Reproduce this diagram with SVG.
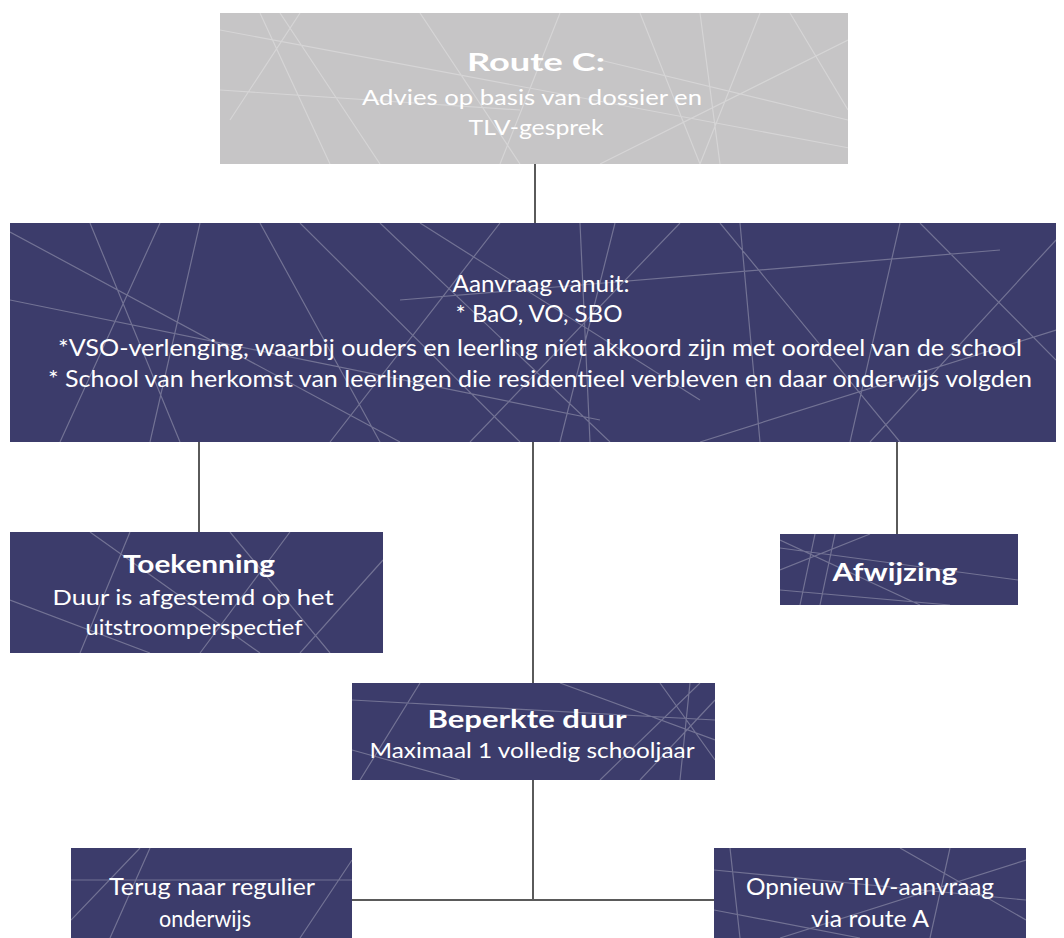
<svg xmlns="http://www.w3.org/2000/svg" width="1064" height="938" viewBox="0 0 1064 938">
<style>
.navy{fill:#3c3c6b}
.grey{fill:#c6c5c6}
.deco{stroke:#ffffff;stroke-opacity:.28;stroke-width:1.2;fill:none}
.conn{stroke:#5a5a5a;stroke-width:2;fill:none}
.t{font-family:"Lato","Open Sans","Liberation Sans",sans-serif;fill:#ffffff;text-anchor:middle;font-size:22px}
.m{font-size:24px}
.b{font-weight:bold;font-size:25px}
</style>
<defs>
<clipPath id="cTop"><rect x="220" y="13" width="628" height="151"/></clipPath>
<clipPath id="cMain"><rect x="10" y="223" width="1046" height="219"/></clipPath>
<clipPath id="cToe"><rect x="10" y="532" width="373" height="121"/></clipPath>
<clipPath id="cAfw"><rect x="780" y="534" width="238" height="71"/></clipPath>
<clipPath id="cBep"><rect x="352" y="683" width="363" height="97"/></clipPath>
<clipPath id="cTer"><rect x="71" y="848" width="281" height="92"/></clipPath>
<clipPath id="cOpn"><rect x="714" y="848" width="312" height="92"/></clipPath>
</defs>
<rect width="1064" height="938" fill="#ffffff"/>
<g id="connectors">
<path class="conn" d="M535 164V223"/>
<path class="conn" d="M199 442V532"/>
<path class="conn" d="M533 442V683"/>
<path class="conn" d="M897 442V534"/>
<path class="conn" d="M533 780V900"/>
<path class="conn" d="M352 900H714"/>
</g>
<g id="route-c">
<rect class="grey" x="220" y="13" width="628" height="151"/>
<g class="deco" clip-path="url(#cTop)">
<path d="M220 30L860 150M260 13L330 164M280 13L380 164M230 120L300 13M420 13L520 164M560 13L500 164M640 13L700 164M700 13L720 164M760 13L700 164M790 13L848 110M848 40L600 164M220 90L520 110M600 60L848 120"/>
</g>
<text class="t b" x="536" y="71" textLength="138" lengthAdjust="spacingAndGlyphs">Route C:</text>
<text class="t" x="532" y="105" textLength="340" lengthAdjust="spacingAndGlyphs">Advies op basis van dossier en</text>
<text class="t" x="536" y="135" textLength="135" lengthAdjust="spacingAndGlyphs">TLV-gesprek</text>
</g>
<g id="aanvraag">
<rect class="navy" x="10" y="223" width="1046" height="219"/>
<g class="deco" clip-path="url(#cMain)">
<path d="M10 232L400 442M90 223L180 442M200 223L150 442M260 223L380 442M300 223L520 442M380 223L610 442M420 223L700 400M500 223L330 442M580 223L590 442M615 223L560 442M680 223L470 442M720 223L900 442M740 223L760 442M900 223L850 442M920 223L1056 360M1056 240L870 442M10 300L600 420M700 442L1056 330M60 442L160 223M400 300L1000 250"/>
</g>
<text class="t m" x="541" y="292" textLength="177" lengthAdjust="spacingAndGlyphs">Aanvraag vanuit:</text>
<text class="t m" x="539" y="322" textLength="167" lengthAdjust="spacingAndGlyphs">* BaO, VO, SBO</text>
<text class="t m" x="540" y="356" textLength="964" lengthAdjust="spacingAndGlyphs">*VSO-verlenging, waarbij ouders en leerling niet akkoord zijn met oordeel van de school</text>
<text class="t m" x="540" y="387" textLength="984" lengthAdjust="spacingAndGlyphs">* School van herkomst van leerlingen die residentieel verbleven en daar onderwijs volgden</text>
</g>
<g id="toekenning">
<rect class="navy" x="10" y="532" width="373" height="121"/>
<g class="deco" clip-path="url(#cToe)">
<path d="M90 532L260 653M130 532L80 653M230 532L330 653M290 532L200 653M383 560L300 653M10 600L150 653"/>
</g>
<text class="t b" x="199" y="573" textLength="152" lengthAdjust="spacingAndGlyphs">Toekenning</text>
<text class="t" x="193" y="605" textLength="281" lengthAdjust="spacingAndGlyphs">Duur is afgestemd op het</text>
<text class="t" x="194" y="635" textLength="217" lengthAdjust="spacingAndGlyphs">uitstroomperspectief</text>
</g>
<g id="afwijzing">
<rect class="navy" x="780" y="534" width="238" height="71"/>
<g class="deco" clip-path="url(#cAfw)">
<path d="M780 548L1018 580M780 570L870 534M815 534L800 605M835 534L820 605M780 590L950 605M780 540L920 605"/>
</g>
<text class="t b" x="895" y="581" textLength="125" lengthAdjust="spacingAndGlyphs">Afwijzing</text>
</g>
<g id="beperkte-duur">
<rect class="navy" x="352" y="683" width="363" height="97"/>
<g class="deco" clip-path="url(#cBep)">
<path d="M352 700L715 720M360 780L420 683M600 780L700 683M640 780L715 700M660 683L715 760M352 750L460 780M560 683L715 740M690 683L680 780"/>
</g>
<text class="t b" x="527" y="728" textLength="199" lengthAdjust="spacingAndGlyphs">Beperkte duur</text>
<text class="t" x="532" y="758" textLength="325" lengthAdjust="spacingAndGlyphs">Maximaal 1 volledig schooljaar</text>
</g>
<g id="terug">
<rect class="navy" x="71" y="848" width="281" height="92"/>
<g class="deco" clip-path="url(#cTer)">
<path d="M150 848L110 938M71 880L352 880M300 938L352 860M71 920L140 848"/>
</g>
<text class="t m" x="212" y="895" textLength="206" lengthAdjust="spacingAndGlyphs">Terug naar regulier</text>
<text class="t m" x="205" y="927" textLength="92" lengthAdjust="spacingAndGlyphs">onderwijs</text>
</g>
<g id="opnieuw">
<rect class="navy" x="714" y="848" width="312" height="92"/>
<g class="deco" clip-path="url(#cOpn)">
<path d="M730 848L740 938M714 870L1026 900M780 938L1026 860M714 910L860 938M900 848L1026 920M950 848L930 938"/>
</g>
<text class="t m" x="870" y="895" textLength="248" lengthAdjust="spacingAndGlyphs">Opnieuw TLV-aanvraag</text>
<text class="t m" x="870" y="927" textLength="118" lengthAdjust="spacingAndGlyphs">via route A</text>
</g>
</svg>
